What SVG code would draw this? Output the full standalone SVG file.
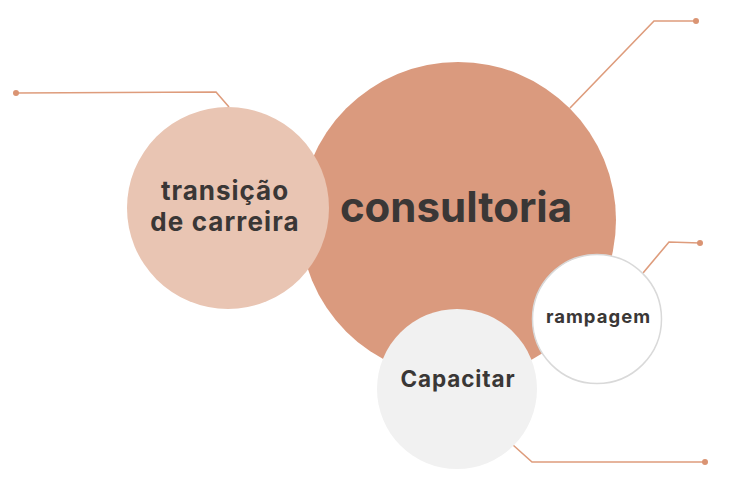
<svg xmlns="http://www.w3.org/2000/svg" width="736" height="491" viewBox="0 0 736 491">
<style>
.ln{fill:none;stroke:#DE9C7C;stroke-width:1.6}
.dot{fill:#DA9473}
.t{font-family:Inter,"Open Sans","Liberation Sans",sans-serif;font-weight:700;fill:#3A3736;text-anchor:middle}
</style>
<rect width="736" height="491" fill="#fff"/>
<g id="connectors">
<polyline class="ln" points="16,93 216,92 229,107"/>
<circle class="dot" cx="16" cy="93" r="3"/>
<polyline class="ln" points="570,108 654,21 696,21"/>
<circle class="dot" cx="696" cy="21" r="3"/>
<polyline class="ln" points="643,273 669,242 700,243"/>
<circle class="dot" cx="700" cy="243" r="3"/>
<polyline class="ln" points="513,445 532,462 705,462"/>
<circle class="dot" cx="705" cy="462" r="3"/>
</g>
<g id="consultoria">
<circle cx="458" cy="220" r="158" fill="#DA9A7E"/>
<text class="t" x="456" y="222" font-size="42">consultoria</text>
</g>
<g id="transicao">
<circle cx="228" cy="208" r="101" fill="#E9C5B3"/>
<text class="t" x="225" y="200" font-size="26" letter-spacing="1">transição</text>
<text class="t" x="225" y="231" font-size="26" letter-spacing="1.1">de carreira</text>
</g>
<g id="capacitar">
<circle cx="457" cy="389" r="80" fill="#F1F1F1"/>
<text class="t" x="458" y="387" font-size="22.5" letter-spacing="0.9">Capacitar</text>
</g>
<g id="rampagem">
<circle cx="597" cy="319" r="64.5" fill="#fff" stroke="#D9D9D9" stroke-width="1.5"/>
<text class="t" x="598.5" y="323" font-size="18.5" letter-spacing="1">rampagem</text>
</g>
</svg>
